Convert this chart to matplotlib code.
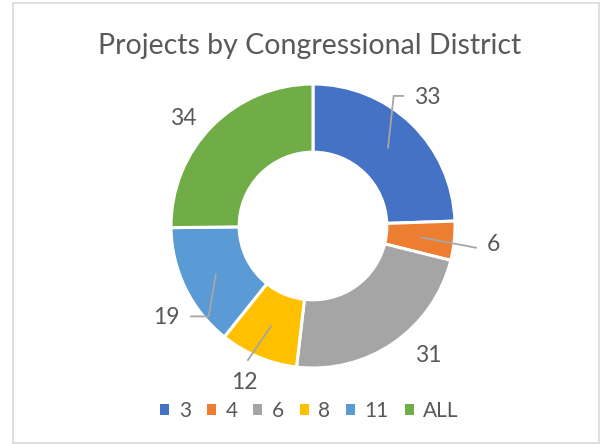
import numpy as np
import matplotlib
matplotlib.use("Agg")
import matplotlib.pyplot as plt
from matplotlib.patches import Rectangle

categories = ["3", "4", "6", "8", "11", "ALL"]
values = [33, 6, 31, 12, 19, 34]
colors = ["#4472C4", "#ED7D31", "#A5A5A5", "#FFC000", "#5B9BD5", "#70AD47"]
title = "Projects by Congressional District"

plt.rcParams['font.family'] = ['Lato', 'DejaVu Sans']
txt = "#595959"

fig = plt.figure(figsize=(6.01, 4.44), dpi=100)
fig.patch.set_facecolor("white")
fig.add_artist(Rectangle((13/601, 1/444), 586/601, 440/444, transform=fig.transFigure,
                         fill=False, edgecolor="#D9D9D9", linewidth=1.2))

# axes placed so that radius 1 = 142 px, centre at (313, 226)
R = 142
cx, cy = 313, 226
half = 1.55
w = 2 * half * R
ax = fig.add_axes([(cx - half * R) / 601, (444 - cy - half * R) / 444, w / 601, w / 444])

wedges, _ = ax.pie(values, colors=colors, startangle=90, counterclock=False, radius=1.0,
                   wedgeprops=dict(width=0.48, edgecolor="white", linewidth=2.2))
ax.set_xlim(-half, half)
ax.set_ylim(-half, half)
ax.set_aspect('equal')
ax.axis('off')

# label layout: (radius, angle offset deg, leader kind)
layout = [(1.21, 2.5, "up"), (1.28, 0, "straight"), (1.22, 7, None),
          (1.2, -1, "down"), (1.22, 6, "left"), (1.19, 5, None)]
for wdg, v, (r, da, kind) in zip(wedges, values, layout):
    mid = np.deg2rad((wdg.theta1 + wdg.theta2) / 2)
    ang = mid + np.deg2rad(da)
    tx, ty = r * np.cos(ang), r * np.sin(ang)
    ax.text(tx, ty, str(v), ha='center', va='center', fontsize=16.5, color=txt)
    ax_, ay_ = 0.76 * np.cos(mid), 0.76 * np.sin(mid)
    if kind == "up":
        xs = [ax_, ax_ + 0.04, tx - 0.16]
        ys = [ay_, ty + 0.01, ty + 0.01]
    elif kind == "straight":
        xs = [ax_, tx - 0.12]
        ys = [ay_, ty - 0.02]
    elif kind == "down":
        xs = [ax_, tx + 0.02]
        ys = [ay_, ty + 0.15]
    elif kind == "left":
        xs = [ax_, tx + 0.3, tx + 0.17]
        ys = [ay_, ty + 0.01, ty + 0.01]
    else:
        continue
    ax.plot(xs, ys, color="#A6A6A6", linewidth=1.3, solid_capstyle='butt')

fig.text(0.515, 0.897, title, ha='center', va='center', fontsize=20.5, color=txt)

leg = fig.legend(wedges, categories, loc='center', bbox_to_anchor=(0.515, 0.075), ncol=6,
                 frameon=False, fontsize=15, handlelength=0.45, handleheight=0.45,
                 handletextpad=0.45, columnspacing=0.75, labelcolor=txt)
for h in leg.legend_handles:
    h.set_edgecolor('none')

fig.savefig("out.png", dpi=100)
